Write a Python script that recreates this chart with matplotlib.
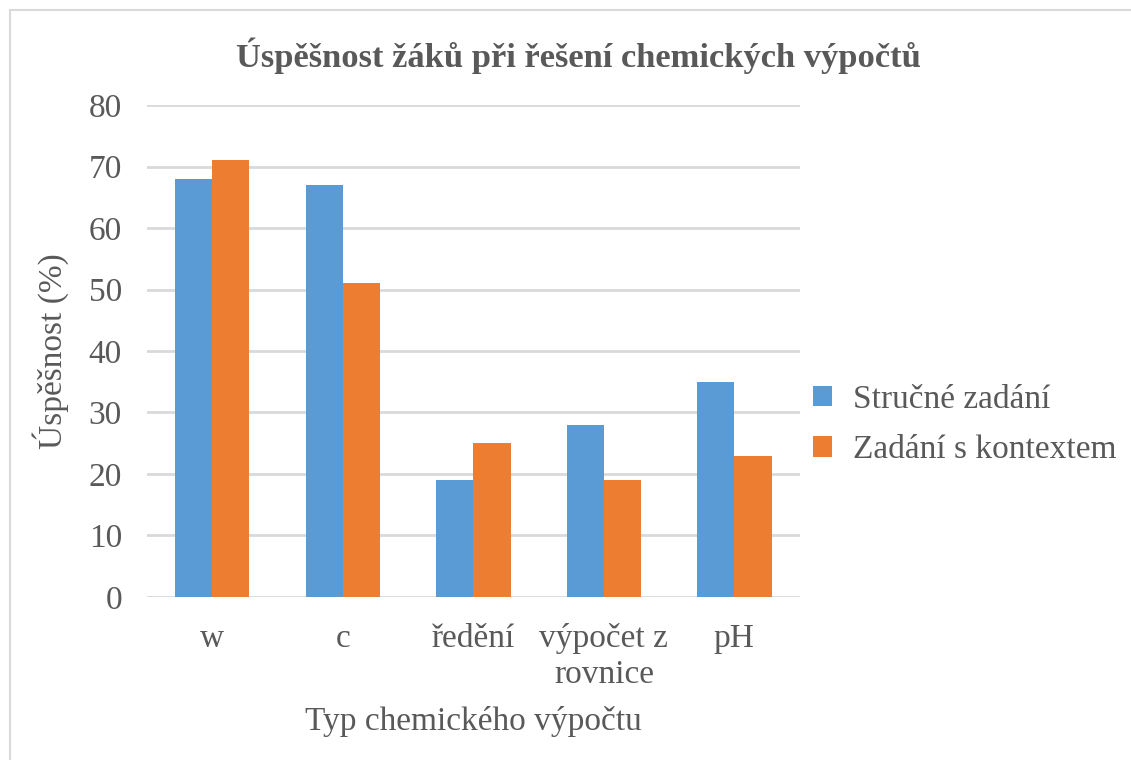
import numpy as np
import matplotlib
matplotlib.use("Agg")
import matplotlib.pyplot as plt
from matplotlib.patches import Rectangle

categories = ["w", "c", "ředění", "výpočet z\nrovnice", "pH"]
strucne = [68, 67, 19, 28, 35]
kontext = [71, 51, 25, 19, 23]
series_names = ["Stručné zadání", "Zadání s kontextem"]

BLUE = "#5B9BD5"
ORANGE = "#ED7D31"
TEXT = "#595959"
GRID = "#D9D9D9"

plt.rcParams["font.family"] = ["Liberation Serif", "DejaVu Serif"]

fig = plt.figure(figsize=(11.31, 7.6), dpi=100)
ax = fig.add_axes([0.130, 0.2145, 0.577, 0.6473])

# light chart border like the Excel chart area
fig.patches.append(Rectangle((10 / 1131, -0.01), 1.02, 1 - 10 / 760 + 0.01,
                             transform=fig.transFigure, fill=False,
                             edgecolor=GRID, linewidth=1.5))

x = np.arange(len(categories))
w = 0.285
ax.bar(x - w / 2, strucne, w, color=BLUE, label=series_names[0], zorder=3)
ax.bar(x + w / 2, kontext, w, color=ORANGE, label=series_names[1], zorder=3)

ax.set_xlim(-0.5, len(categories) - 0.5)
ax.set_ylim(0, 80)
ax.set_yticks(range(0, 81, 10))
ax.yaxis.grid(True, color=GRID, linewidth=2, zorder=0)
ax.set_axisbelow(True)
for s in ax.spines.values():
    s.set_visible(False)
ax.tick_params(length=0, labelsize=24, colors=TEXT, pad=18)
ax.tick_params(axis="x", pad=19)
ax.set_xticks(x)
ax.set_xticklabels(categories, linespacing=1.2)

ax.set_ylabel("Úspěšnost (%)", fontsize=24, color=TEXT, labelpad=14)
ax.set_xlabel("Typ chemického výpočtu", fontsize=24, color=TEXT, labelpad=12)
fig.text(0.511, 0.927, "Úspěšnost žáků při řešení chemických výpočtů",
         ha="center", va="center", fontsize=24.8, fontweight="bold", color=TEXT)

leg = ax.legend(loc="center left", bbox_to_anchor=(0.975, 0.35), frameon=False,
                fontsize=24, labelcolor=TEXT, handlelength=0.55, handleheight=0.55,
                handletextpad=0.65, labelspacing=0.6)

fig.savefig("out.png", dpi=100)
